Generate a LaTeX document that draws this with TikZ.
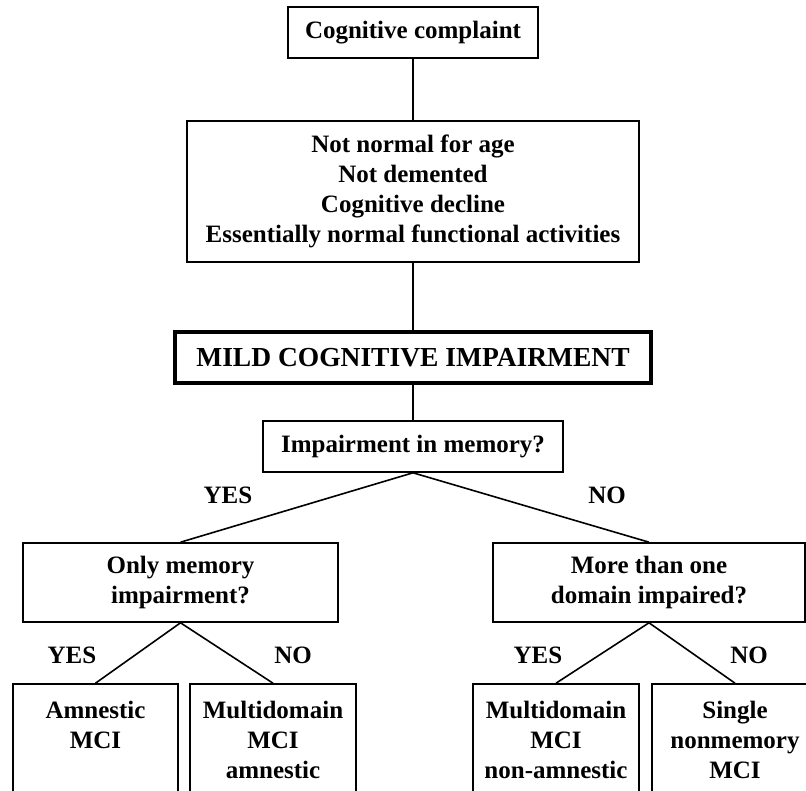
\documentclass[tikz,border=0pt]{standalone}
\usepackage{fontspec}
\setmainfont{Liberation Serif}

\begin{document}
\begin{tikzpicture}[x=1pt,y=-1pt,
		box/.style={draw,line width=1.6pt,inner sep=0pt,align=center,
			font=\fontsize{25}{30}\selectfont\bfseries},
		mcibox/.style={box,line width=3.2pt,font=\fontsize{27.5}{30}\selectfont\bfseries},
		answer/.style={font=\fontsize{25}{30}\selectfont\bfseries},
		link/.style={line width=1.6pt}]
		\clip (0,0) rectangle (806,791);
		\fill [white] (0,0) rectangle (806,791);
		% top of the chart
		\node [box,minimum width=250,minimum height=51] (complaint) at (413,32.5) {Cognitive complaint};
		\node [box,minimum width=452,minimum height=141] (criteria) at (413,191.5)
			{Not normal for age\\Not demented\\Cognitive decline\\Essentially normal functional activities};
		\node [mcibox,minimum width=476,minimum height=51] (mci) at (413,357.5) {MILD COGNITIVE IMPAIRMENT};
		\node [box,minimum width=300,minimum height=51] (memory) at (413,446.5) {Impairment in memory?};
		% questions
		\node [box,minimum width=315,minimum height=79] (onlymem) at (180.5,582.5) {Only memory\\impairment?};
		\node [box,minimum width=312,minimum height=79] (moredom) at (649,582.5) {More than one\\domain impaired?};
		% outcomes
		\node [box,minimum width=165,minimum height=112] (amn) at (95.5,740) {Amnestic\\MCI\\~};
		\node [box,minimum width=166,minimum height=112] (multamn) at (273,740) {Multidomain\\MCI\\amnestic};
		\node [box,minimum width=166,minimum height=112] (multnon) at (556,740) {Multidomain\\MCI\\non-amnestic};
		\node [box,minimum width=166,minimum height=112] (single) at (735,740) {Single\\nonmemory\\MCI};
		% connectors
		\draw [link] (complaint.south) -- (criteria.north);
		\draw [link] (criteria.south) -- (mci.north);
		\draw [link] (mci.south) -- (memory.north);
		\draw [link] (memory.south) -- (onlymem.north);
		\draw [link] (memory.south) -- (moredom.north);
		\draw [link] (onlymem.south) -- (amn.north);
		\draw [link] (onlymem.south) -- (multamn.north);
		\draw [link] (moredom.south) -- (multnon.north);
		\draw [link] (moredom.south) -- (single.north);
		% answers
		\node [answer] (yes1) at (228,495) {YES};
		\node [answer] (no1) at (607,495) {NO};
		\node [answer] (yes2) at (72,655) {YES};
		\node [answer] (no2) at (293,655) {NO};
		\node [answer] (yes3) at (538,655) {YES};
		\node [answer] (no3) at (749,655) {NO};
	\end{tikzpicture}
\end{document}
